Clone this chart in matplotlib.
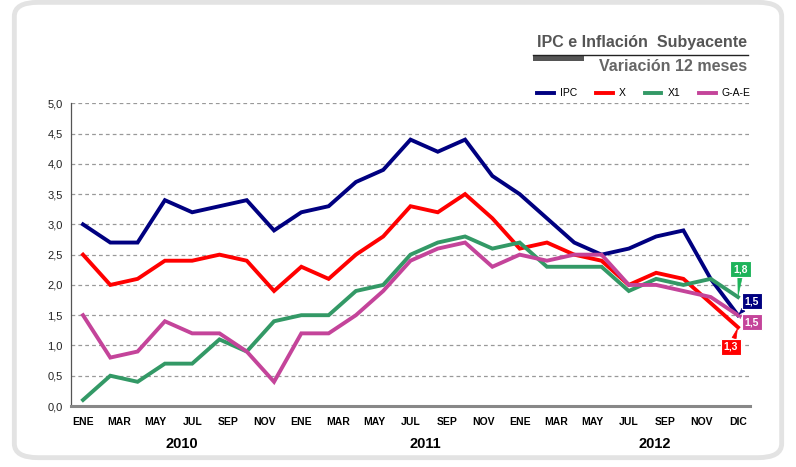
import numpy as np
import matplotlib.pyplot as plt
from matplotlib.patches import FancyBboxPatch, Rectangle
from matplotlib.lines import Line2D

plt.rcParams['font.family'] = ['Liberation Sans', 'DejaVu Sans']

# data (variacion 12 meses, %)
ipc = [3.0, 2.7, 2.7, 3.4, 3.2, 3.3, 3.4, 2.9, 3.2, 3.3, 3.7, 3.9, 4.4,
       4.2, 4.4, 3.8, 3.5, 3.1, 2.7, 2.5, 2.6, 2.8, 2.9, 2.1, 1.5]
x_sub = [2.5, 2.0, 2.1, 2.4, 2.4, 2.5, 2.4, 1.9, 2.3, 2.1, 2.5, 2.8, 3.3,
         3.2, 3.5, 3.1, 2.6, 2.7, 2.5, 2.4, 2.0, 2.2, 2.1, 1.7, 1.3]
x1 = [0.1, 0.5, 0.4, 0.7, 0.7, 1.1, 0.9, 1.4, 1.5, 1.5, 1.9, 2.0, 2.5,
      2.7, 2.8, 2.6, 2.7, 2.3, 2.3, 2.3, 1.9, 2.1, 2.0, 2.1, 1.8]
gae = [1.5, 0.8, 0.9, 1.4, 1.2, 1.2, 0.9, 0.4, 1.2, 1.2, 1.5, 1.9, 2.4,
       2.6, 2.7, 2.3, 2.5, 2.4, 2.5, 2.5, 2.0, 2.0, 1.9, 1.8, 1.5]

months = ['ENE', 'MAR', 'MAY', 'JUL', 'SEP', 'NOV', 'ENE', 'MAR', 'MAY', 'JUL',
          'SEP', 'NOV', 'ENE', 'MAR', 'MAY', 'JUL', 'SEP', 'NOV', 'DIC']
years = ['2010', '2011', '2012']

names = ['IPC', 'X', 'X1', 'G-A-E']
colors = ['#000080', '#ff0000', '#339966', '#c4449a']
box_colors = ['#000080', '#ff0000', '#1db35a', '#c4449a']

n = len(ipc)
xd = np.arange(n)
# month labels are spread evenly over the same span as the data
xt = np.linspace(0, n - 1, len(months))
year_pos = [2.72, 9.4, 15.72]  # in month-label steps
step = (n - 1) / (len(months) - 1)

fig = plt.figure(figsize=(7.96, 4.67), dpi=100)

# rounded frame
frame = FancyBboxPatch((0.018, 0.02), 0.964, 0.975, boxstyle='round,pad=0,rounding_size=0.03',
                       transform=fig.transFigure, fc='none', ec='#e3e3e3', lw=3.5, zorder=-5)
fig.patches.append(frame)

ax = fig.add_axes([0.0892, 0.1306, 0.853, 0.6482])
ax.patch.set_alpha(0)
series = [ipc, x_sub, x1, gae]
for s, c in zip(series, colors):
    ax.plot(xd, s, color=c, lw=2.8, solid_joinstyle='miter')

ax.set_xlim(-0.44, n - 1 + 0.44)
ax.set_ylim(0, 5)
ax.set_yticks(np.arange(0, 5.01, 0.5))
ax.set_yticklabels([f'{v:.1f}'.replace('.', ',') for v in np.arange(0, 5.01, 0.5)],
                   fontsize=8, color='#222222')
ax.yaxis.grid(True, ls=(0, (3, 2.5)), color='#999999', lw=0.9)
ax.set_axisbelow(True)
ax.set_xticks(xt)
ax.set_xticklabels(months, fontsize=7.5, fontweight='bold')
ax.tick_params(axis='x', length=0, pad=8)
ax.tick_params(axis='y', length=0, pad=6)
for sp in ['top', 'right']:
    ax.spines[sp].set_visible(False)
ax.spines['bottom'].set_color('#888888')
ax.spines['bottom'].set_linewidth(2.2)
ax.spines['left'].set_color('#555555')
ax.spines['left'].set_linewidth(0.9)

for yr, p in zip(years, year_pos):
    ax.text(p * step, -0.125, yr, transform=ax.get_xaxis_transform(), ha='center', va='center',
            fontsize=10.5, fontweight='bold')

# end-of-line callouts
offsets = [(10, 10), (-5, -14), (2, 20), (10, -5)]
for s, c, off in zip(series, box_colors, offsets):
    ax.annotate(f'{s[-1]:.1f}'.replace('.', ','), xy=(n - 1, s[-1]), xytext=off,
                textcoords='offset points', ha='center', va='center', color='white',
                fontsize=7.5, fontweight='bold', annotation_clip=False,
                bbox=dict(boxstyle='square,pad=0.3', fc=c, ec='white', lw=0.8),
                arrowprops=dict(arrowstyle='wedge,tail_width=0.4,shrink_factor=0.5',
                                fc=c, ec=c, lw=0.5, shrinkA=0, shrinkB=1))

# title block
fig.text(0.939, 0.908, 'IPC e Inflación  Subyacente', ha='right', va='center',
         fontsize=11.5, fontweight='bold', color='#555555')
fig.text(0.939, 0.858, 'Variación 12 meses', ha='right', va='center',
         fontsize=11.5, fontweight='bold', color='#666666')
fig.add_artist(Line2D([0.670, 0.940], [0.882, 0.882], transform=fig.transFigure,
                      color='#222222', lw=1))
fig.add_artist(Rectangle((0.670, 0.870), 0.064, 0.012, transform=fig.transFigure,
                         fc='#555555', ec='none'))

handles = [Line2D([], [], color=c, lw=2.8) for c in colors]
fig.legend(handles, names, loc='center right', bbox_to_anchor=(0.955, 0.80), ncol=4,
           frameon=False, handlelength=1.6, handletextpad=0.6,
           columnspacing=1.8, prop={'size': 7.5})

fig.savefig('out.png', dpi=100)
